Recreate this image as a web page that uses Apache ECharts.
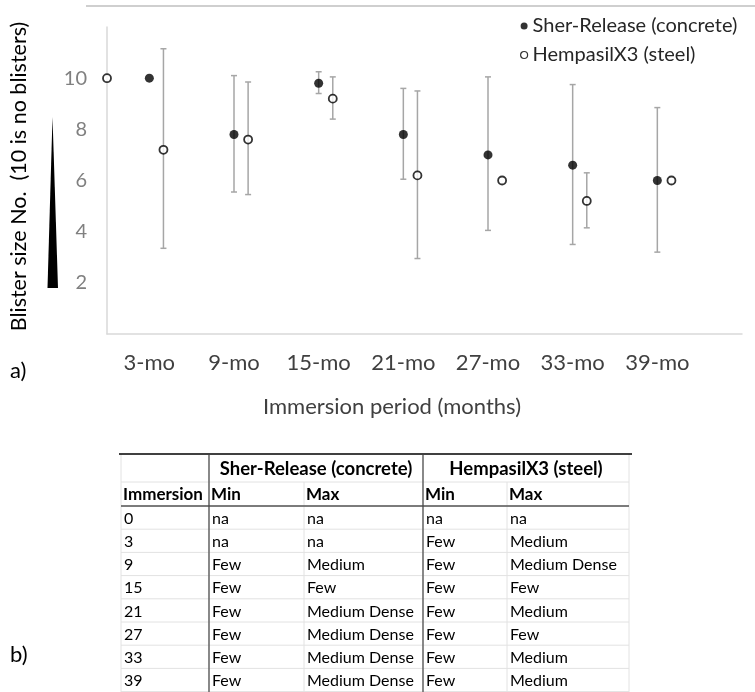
<!DOCTYPE html>
<html>
<head>
<meta charset="utf-8">
<script src="https://cdn.jsdelivr.net/npm/echarts@6/dist/echarts.min.js"></script>
<style>
  html, body { margin: 0; padding: 0; background: #fff; }
  #chart { width: 755px; height: 692px; }
</style>
</head>
<body>
<div id="chart"></div>
<script>
// Sher-Release (concrete): filled markers
const sherMonths = [3, 9, 15, 21, 27, 33, 39]
const sherMean = [10, 7.8, 9.8, 7.8, 7.0, 6.6, 6.0]
const sherLow = [null, 5.55, 9.4, 6.05, 4.05, 3.5, 3.2]
const sherHigh = [null, 10.1, 10.25, 9.6, 10.05, 9.75, 8.85]

// HempasilX3 (steel): open markers
const hempMonths = [0, 4, 10, 16, 22, 28, 34, 40]
const hempMean = [10, 7.2, 7.6, 9.2, 6.2, 6.0, 5.2, 6.0]
const hempLow = [null, 3.35, 5.45, 8.4, 2.95, null, 4.15, null]
const hempHigh = [null, 11.15, 9.85, 10.05, 9.5, null, 6.3, null]

const labelMonths = [3, 9, 15, 21, 27, 33, 39]
const yTicks = [2, 4, 6, 8, 10]

// table b)
const tableGroups = ['Sher-Release (concrete)', 'HempasilX3 (steel)']
const tableHeads = ['Immersion', 'Min', 'Max', 'Min', 'Max']
const tableImmersion = ['0', '3', '9', '15', '21', '27', '33', '39']
const sherMinText = ['na', 'na', 'Few', 'Few', 'Few', 'Few', 'Few', 'Few']
const sherMaxText = ['na', 'na', 'Medium', 'Few', 'Medium Dense', 'Medium Dense', 'Medium Dense', 'Medium Dense']
const hempMinText = ['na', 'Few', 'Few', 'Few', 'Few', 'Few', 'Few', 'Few']
const hempMaxText = ['na', 'Medium', 'Medium Dense', 'Few', 'Medium', 'Few', 'Medium', 'Medium']

const FONT = 'Lato'
const chart = echarts.init(document.getElementById('chart'))

function errorBars(months, low, high) {
  const data = []
  months.forEach((m, i) => {
    if (low[i] != null) data.push([m, low[i], high[i]])
  })
  return {
    type: 'custom',
    data: data,
    silent: true,
    z: 1,
    encode: { x: 0, y: [1, 2] },
    renderItem(params, api) {
      const top = api.coord([api.value(0), api.value(2)])
      const bot = api.coord([api.value(0), api.value(1)])
      const w = 3
      const style = { stroke: '#a6a6a6', lineWidth: 1.5 }
      return {
        type: 'group',
        children: [
          { type: 'line', shape: { x1: top[0], y1: top[1], x2: bot[0], y2: bot[1] }, style },
          { type: 'line', shape: { x1: top[0] - w, y1: top[1], x2: top[0] + w, y2: top[1] }, style },
          { type: 'line', shape: { x1: bot[0] - w, y1: bot[1], x2: bot[0] + w, y2: bot[1] }, style },
        ],
      }
    },
  }
}

// table graphic
function buildTable() {
  const colX = [121, 209, 304, 423, 507, 629]
  const top = 454
  const h1 = 482
  const h2 = 506
  const rowH = 23.2
  const els = []
  const light = { stroke: '#e2e2e2', lineWidth: 1 }
  const rows = tableImmersion.map((v, i) => [v, sherMinText[i], sherMaxText[i], hempMinText[i], hempMaxText[i]])

  // light cell borders
  for (let i = 0; i <= rows.length; i++) {
    const y = h2 + i * rowH
    els.push({ type: 'line', shape: { x1: colX[0], y1: y, x2: colX[5], y2: y }, style: light })
  }
  els.push({ type: 'line', shape: { x1: colX[0], y1: h1, x2: colX[5], y2: h1 }, style: light })
  colX.forEach((x, j) => {
    els.push({ type: 'line', shape: { x1: x, y1: j === 2 || j === 4 ? h1 : top, x2: x, y2: 692 }, style: light })
  })
  // dark rules
  els.push({ type: 'line', shape: { x1: 119, y1: top, x2: 632, y2: top }, style: { stroke: '#000', lineWidth: 1.5 } })
  els.push({ type: 'line', shape: { x1: colX[0], y1: h2, x2: colX[5], y2: h2 }, style: { stroke: '#555', lineWidth: 1.5 } })
  ;[1, 3].forEach(j => {
    els.push({ type: 'line', shape: { x1: colX[j], y1: top, x2: colX[j], y2: 692 }, style: { stroke: '#444', lineWidth: 1.2 } })
  })

  const txt = (s, x, y, font, align) => ({
    type: 'text',
    x: x,
    y: y,
    style: {
      text: s,
      font: font + ' ' + FONT,
      fill: '#000',
      textAlign: align || 'left',
      textVerticalAlign: 'middle',
    },
  })
  els.push(txt(tableGroups[0], (colX[1] + colX[3]) / 2, (top + h1) / 2 + 1, 'bold 18.5px', 'center'))
  els.push(txt(tableGroups[1], (colX[3] + colX[5]) / 2, (top + h1) / 2 + 1, 'bold 18.5px', 'center'))
  tableHeads.forEach((s, j) => els.push(txt(s, colX[j] + 2, (h1 + h2) / 2 + 1, 'bold 17px')))
  rows.forEach((r, i) => {
    r.forEach((s, j) => els.push(txt(s, colX[j] + 3, h2 + i * rowH + rowH / 2 + 1, '16px')))
  })
  return els
}

const graphics = [
  { type: 'line', shape: { x1: 86, y1: 6, x2: 755, y2: 6 }, style: { stroke: '#bfbfbf', lineWidth: 1.5 } },
  { type: 'polygon', shape: { points: [[52.5, 117], [47.5, 288], [58, 288]] }, style: { fill: '#000' } },
  { type: 'text', x: 10, y: 371, style: { text: 'a)', font: '22px ' + FONT, fill: '#000', textVerticalAlign: 'middle' } },
  { type: 'text', x: 10, y: 655, style: { text: 'b)', font: '22px ' + FONT, fill: '#000', textVerticalAlign: 'middle' } },
].concat(buildTable())

chart.setOption({
  animation: false,
  backgroundColor: '#fff',
  textStyle: { fontFamily: FONT },
  grid: { left: 105, right: 13, top: 27, bottom: 358 },
  legend: {
    orient: 'vertical',
    left: 515,
    top: 11,
    itemWidth: 7,
    itemHeight: 7,
    itemGap: 9,
    textStyle: { fontSize: 20, color: '#262626', fontFamily: FONT },
    data: [
      { name: 'Sher-Release (concrete)', icon: 'circle', itemStyle: { color: '#000' } },
      { name: 'HempasilX3 (steel)', icon: 'circle', itemStyle: { color: '#fff', borderColor: '#000', borderWidth: 1.2 } },
    ],
  },
  xAxis: {
    type: 'value',
    min: 0,
    max: 45,
    interval: 3,
    name: 'Immersion period (months)',
    nameLocation: 'middle',
    nameGap: 62,
    nameTextStyle: { fontSize: 22, color: '#404040', padding: [0, 65, 0, 0] },
    axisLine: { lineStyle: { color: '#d9d9d9', width: 1.5 } },
    axisTick: { show: false },
    splitLine: { show: false },
    axisLabel: {
      fontSize: 22,
      color: '#404040',
      margin: 18,
      formatter: v => (labelMonths.indexOf(v) >= 0 ? v + '-mo' : ''),
    },
  },
  yAxis: {
    type: 'value',
    min: 0,
    max: 12,
    interval: 2,
    name: 'Blister size No.  (10 is no blisters)',
    nameLocation: 'middle',
    nameRotate: 90,
    nameGap: 77,
    nameTextStyle: { fontSize: 21.5, color: '#000', padding: [0, 0, 0, 8] },
    axisLine: { show: true, lineStyle: { color: '#d9d9d9', width: 1.5 } },
    axisTick: { show: false },
    splitLine: { show: false },
    axisLabel: {
      fontSize: 20,
      color: '#808080',
      margin: 20,
      formatter: v => (yTicks.indexOf(v) >= 0 ? String(v) : ''),
    },
  },
  series: [
    errorBars(sherMonths, sherLow, sherHigh),
    errorBars(hempMonths, hempLow, hempHigh),
    {
      name: 'Sher-Release (concrete)',
      type: 'scatter',
      z: 3,
      symbol: 'circle',
      symbolSize: 9,
      itemStyle: { color: '#000' },
      data: sherMonths.map((m, i) => [m, sherMean[i]]),
    },
    {
      name: 'HempasilX3 (steel)',
      type: 'scatter',
      z: 3,
      symbol: 'circle',
      symbolSize: 8,
      itemStyle: { color: '#fff', borderColor: '#000', borderWidth: 1.8 },
      data: hempMonths.map((m, i) => [m, hempMean[i]]),
    },
  ],
  graphic: graphics,
})
</script>
</body>
</html>
